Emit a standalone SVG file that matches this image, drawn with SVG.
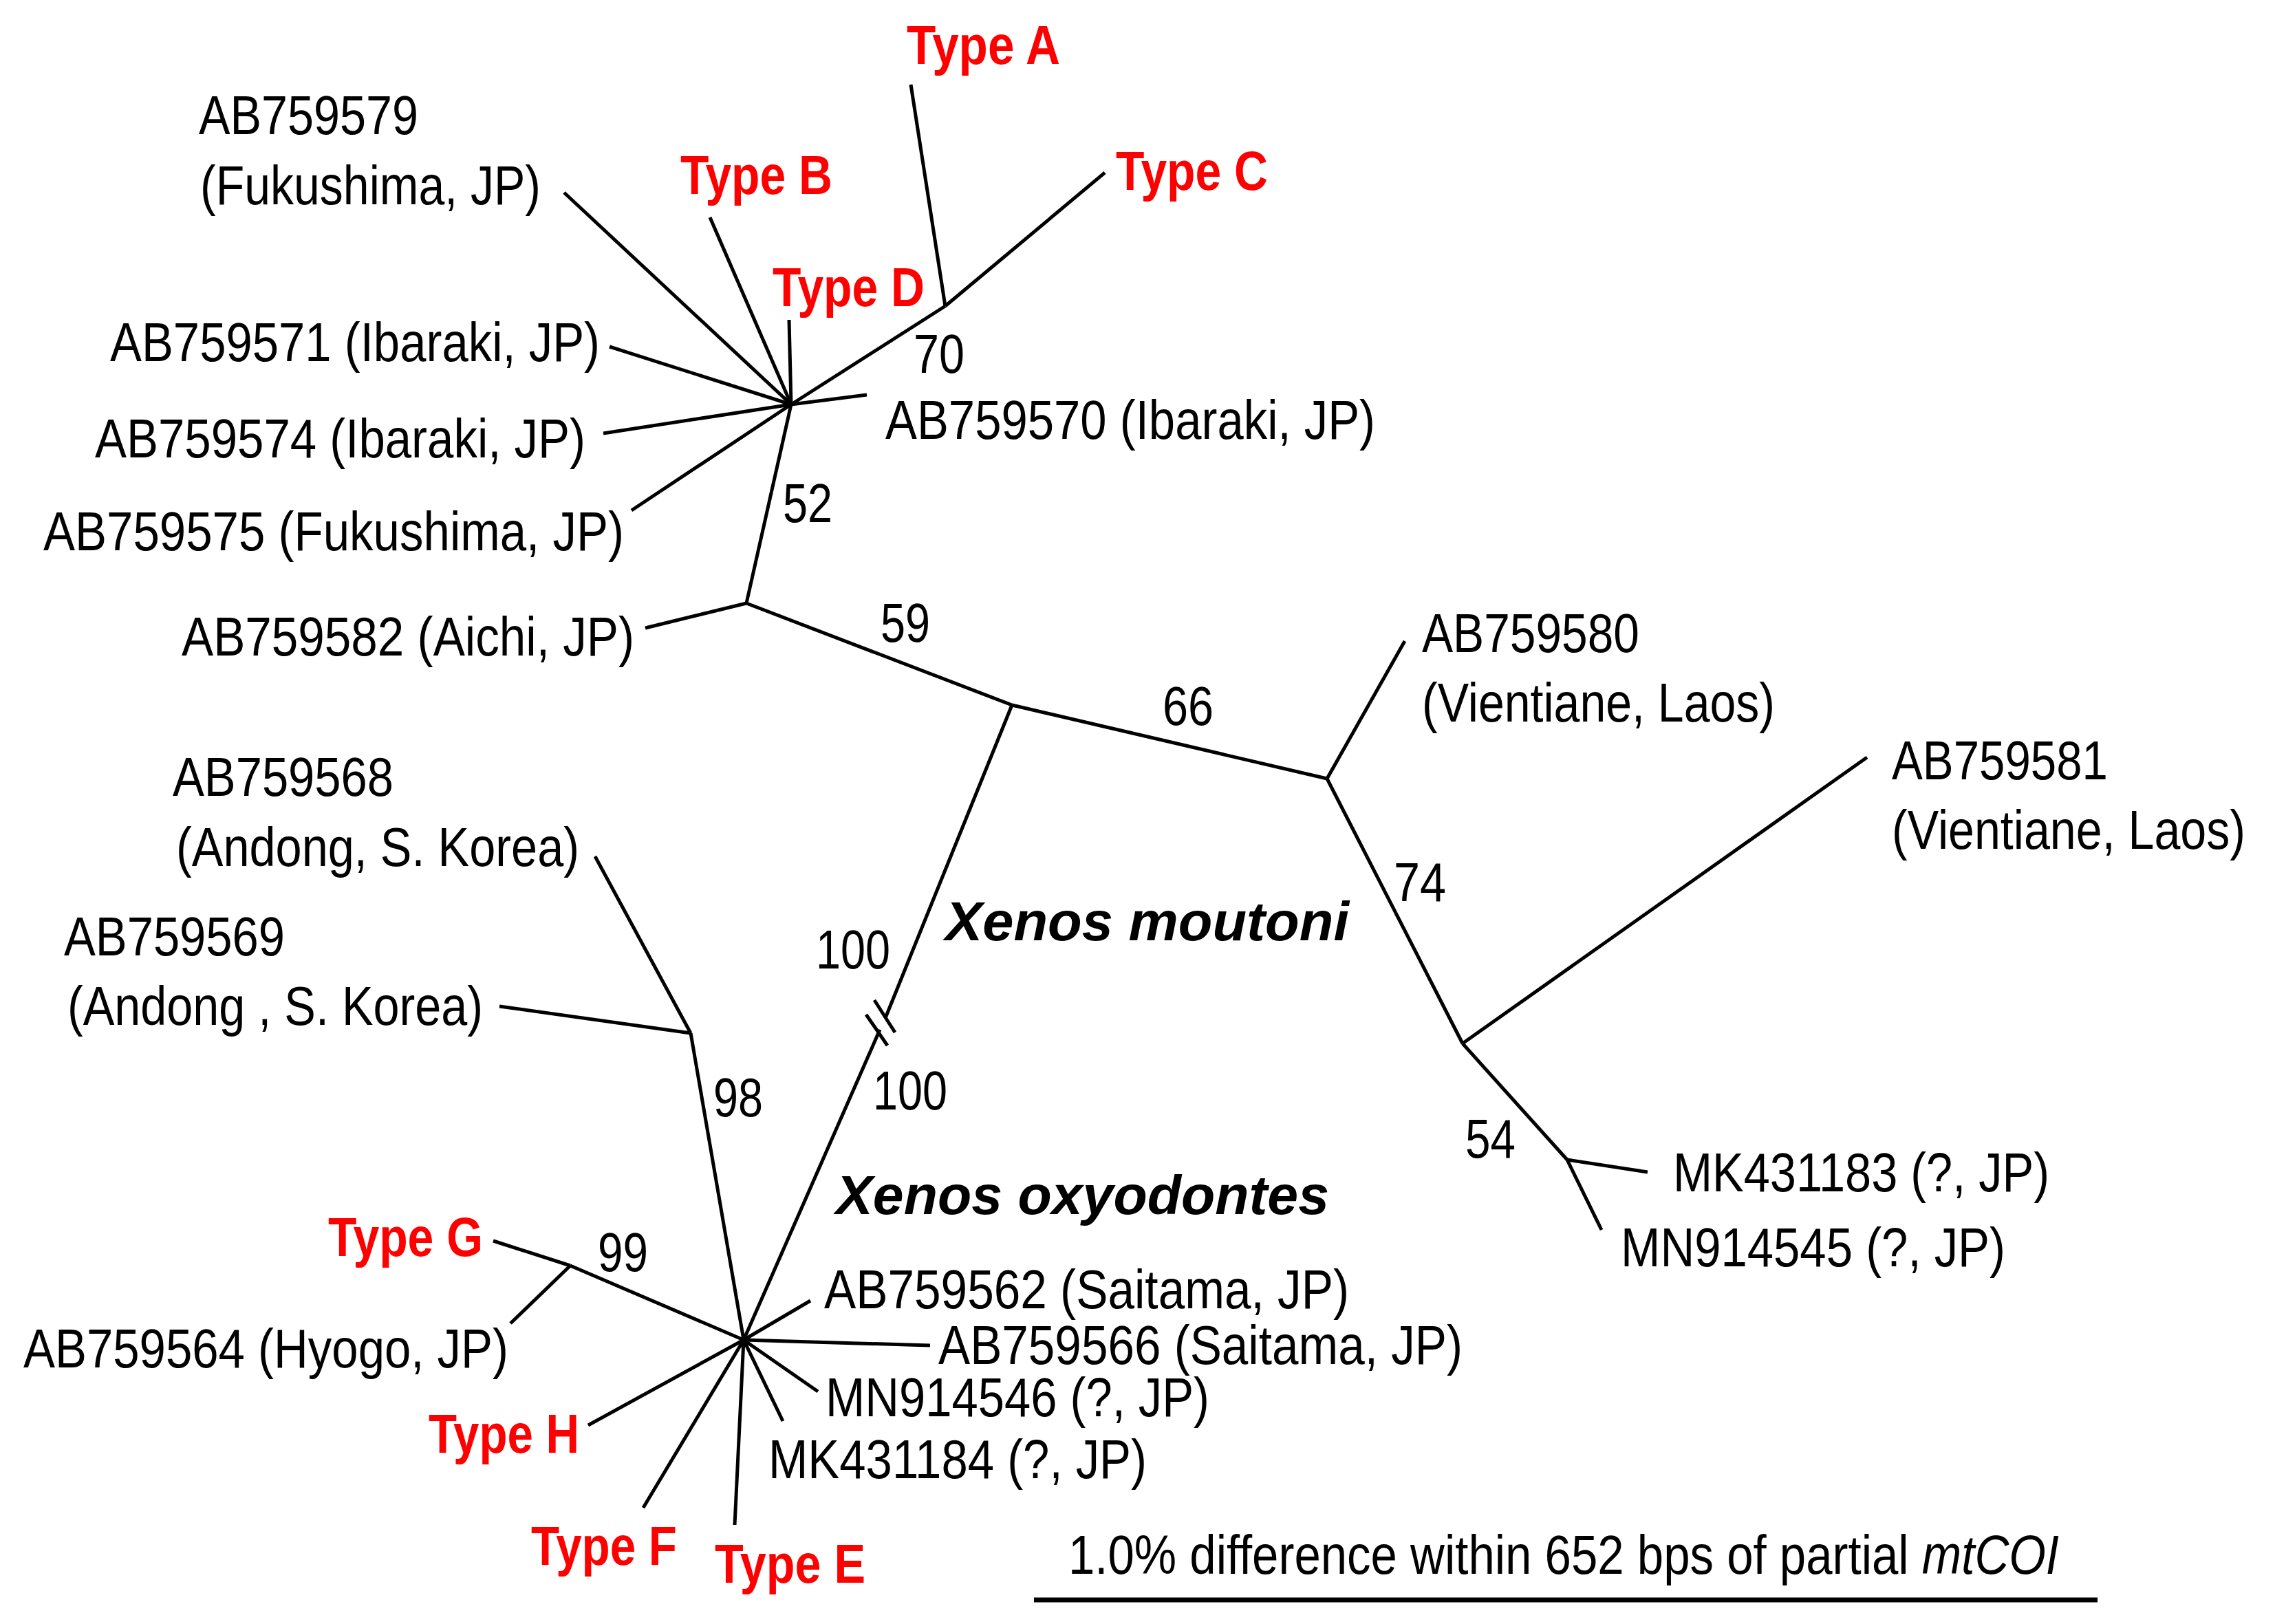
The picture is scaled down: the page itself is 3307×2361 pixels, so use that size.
<svg xmlns="http://www.w3.org/2000/svg" width="3307" height="2361" viewBox="0 0 3307 2361">
<style>
.t{font-family:"Liberation Sans",Arial,sans-serif;font-size:80px;fill:#000}
.r{font-family:"Liberation Sans",Arial,sans-serif;font-size:80px;font-weight:bold;fill:#ff0000}
.sp{font-family:"Liberation Sans",Arial,sans-serif;font-size:80px;font-weight:bold;font-style:italic;fill:#000}
.e{stroke:#000;stroke-width:5;fill:none;stroke-linecap:butt}
</style>
<rect width="3307" height="2361" fill="#fff"/>
<g id="connectors" class="e">
<!-- upper Japanese cluster -->
<line x1="1150" y1="588" x2="820" y2="280"/>
<line x1="1150" y1="588" x2="1032" y2="316"/>
<line x1="1150" y1="588" x2="1147" y2="465"/>
<line x1="1150" y1="588" x2="886" y2="504"/>
<line x1="1150" y1="588" x2="877" y2="630"/>
<line x1="1150" y1="588" x2="918" y2="742"/>
<line x1="1150" y1="588" x2="1260" y2="574"/>
<line x1="1150" y1="588" x2="1374" y2="445"/>
<line x1="1374" y1="445" x2="1324" y2="123"/>
<line x1="1374" y1="445" x2="1606" y2="251"/>
<line x1="1150" y1="588" x2="1085" y2="877"/>
<line x1="1085" y1="877" x2="938" y2="913"/>
<line x1="1085" y1="877" x2="1471" y2="1025"/>
<!-- moutoni right side -->
<line x1="1471" y1="1025" x2="1929" y2="1132"/>
<line x1="1929" y1="1132" x2="2042" y2="932"/>
<line x1="1929" y1="1132" x2="2126" y2="1517"/>
<line x1="2126" y1="1517" x2="2714" y2="1101"/>
<line x1="2126" y1="1517" x2="2278" y2="1686"/>
<line x1="2278" y1="1686" x2="2395" y2="1704"/>
<line x1="2278" y1="1686" x2="2328" y2="1788"/>
<!-- long branch with break -->
<line x1="1471" y1="1025" x2="1287" y2="1480"/>
<line x1="1279" y1="1497" x2="1081" y2="1948"/>
<line x1="1259" y1="1475" x2="1290" y2="1520"/>
<line x1="1271" y1="1454" x2="1301" y2="1501"/>
<!-- oxyodontes -->
<line x1="1081" y1="1948" x2="1004" y2="1502"/>
<line x1="1004" y1="1502" x2="865" y2="1245"/>
<line x1="1004" y1="1502" x2="726" y2="1463"/>
<line x1="1081" y1="1948" x2="829" y2="1840"/>
<line x1="829" y1="1840" x2="717" y2="1804"/>
<line x1="829" y1="1840" x2="742" y2="1924"/>
<line x1="1081" y1="1948" x2="855" y2="2072"/>
<line x1="1081" y1="1948" x2="935" y2="2192"/>
<line x1="1081" y1="1948" x2="1068" y2="2217"/>
<line x1="1081" y1="1948" x2="1138" y2="2066"/>
<line x1="1081" y1="1948" x2="1189" y2="2023"/>
<line x1="1081" y1="1948" x2="1352" y2="1956"/>
<line x1="1081" y1="1948" x2="1178" y2="1891"/>
<!-- scale bar -->
<line x1="1503" y1="2326" x2="3049" y2="2326" stroke-width="7"/>
</g>
<g id="n-AB759579"><text class="t" x="289" y="195" textLength="319" lengthAdjust="spacingAndGlyphs">AB759579</text><text class="t" x="291" y="297" textLength="495" lengthAdjust="spacingAndGlyphs">(Fukushima, JP)</text></g>
<g id="n-AB759571"><text class="t" x="160" y="525" textLength="712" lengthAdjust="spacingAndGlyphs">AB759571 (Ibaraki, JP)</text></g>
<g id="n-AB759574"><text class="t" x="138" y="665" textLength="713" lengthAdjust="spacingAndGlyphs">AB759574 (Ibaraki, JP)</text></g>
<g id="n-AB759575"><text class="t" x="63" y="800" textLength="844" lengthAdjust="spacingAndGlyphs">AB759575 (Fukushima, JP)</text></g>
<g id="n-TypeA"><text class="r" x="1318" y="93" textLength="223" lengthAdjust="spacingAndGlyphs">Type A</text></g>
<g id="n-TypeB"><text class="r" x="989" y="282" textLength="221" lengthAdjust="spacingAndGlyphs">Type B</text></g>
<g id="n-TypeC"><text class="r" x="1622" y="276" textLength="221" lengthAdjust="spacingAndGlyphs">Type C</text></g>
<g id="n-TypeD"><text class="r" x="1123" y="445" textLength="221" lengthAdjust="spacingAndGlyphs">Type D</text></g>
<g id="n-AB759570"><text class="t" x="1287" y="638" textLength="712" lengthAdjust="spacingAndGlyphs">AB759570 (Ibaraki, JP)</text></g>
<g id="n-AB759582"><text class="t" x="264" y="953" textLength="658" lengthAdjust="spacingAndGlyphs">AB759582 (Aichi, JP)</text></g>
<g id="n-AB759580"><text class="t" x="2067" y="948" textLength="316" lengthAdjust="spacingAndGlyphs">AB759580</text><text class="t" x="2067" y="1049" textLength="513" lengthAdjust="spacingAndGlyphs">(Vientiane, Laos)</text></g>
<g id="n-AB759581"><text class="t" x="2750" y="1133" textLength="314" lengthAdjust="spacingAndGlyphs">AB759581</text><text class="t" x="2750" y="1234" textLength="514" lengthAdjust="spacingAndGlyphs">(Vientiane, Laos)</text></g>
<g id="n-MK431183"><text class="t" x="2432" y="1732" textLength="547" lengthAdjust="spacingAndGlyphs">MK431183 (?, JP)</text></g>
<g id="n-MN914545"><text class="t" x="2356" y="1841" textLength="559" lengthAdjust="spacingAndGlyphs">MN914545 (?, JP)</text></g>
<g id="n-AB759568"><text class="t" x="251" y="1157" textLength="321" lengthAdjust="spacingAndGlyphs">AB759568</text><text class="t" x="256" y="1259" textLength="586" lengthAdjust="spacingAndGlyphs">(Andong, S. Korea)</text></g>
<g id="n-AB759569"><text class="t" x="93" y="1389" textLength="321" lengthAdjust="spacingAndGlyphs">AB759569</text><text class="t" x="98" y="1490" textLength="604" lengthAdjust="spacingAndGlyphs">(Andong , S. Korea)</text></g>
<g id="n-TypeG"><text class="r" x="477" y="1826" textLength="225" lengthAdjust="spacingAndGlyphs">Type G</text></g>
<g id="n-AB759564"><text class="t" x="34" y="1988" textLength="705" lengthAdjust="spacingAndGlyphs">AB759564 (Hyogo, JP)</text></g>
<g id="n-TypeH"><text class="r" x="623" y="2112" textLength="219" lengthAdjust="spacingAndGlyphs">Type H</text></g>
<g id="n-TypeF"><text class="r" x="772" y="2275" textLength="212" lengthAdjust="spacingAndGlyphs">Type F</text></g>
<g id="n-TypeE"><text class="r" x="1039" y="2301" textLength="219" lengthAdjust="spacingAndGlyphs">Type E</text></g>
<g id="n-AB759562"><text class="t" x="1198" y="1902" textLength="763" lengthAdjust="spacingAndGlyphs">AB759562 (Saitama, JP)</text></g>
<g id="n-AB759566"><text class="t" x="1364" y="1983" textLength="762" lengthAdjust="spacingAndGlyphs">AB759566 (Saitama, JP)</text></g>
<g id="n-MN914546"><text class="t" x="1200" y="2059" textLength="558" lengthAdjust="spacingAndGlyphs">MN914546 (?, JP)</text></g>
<g id="n-MK431184"><text class="t" x="1117" y="2149" textLength="550" lengthAdjust="spacingAndGlyphs">MK431184 (?, JP)</text></g>
<g id="species">
<text class="sp" x="1374" y="1367" textLength="587" lengthAdjust="spacingAndGlyphs">Xenos moutoni</text>
<text class="sp" x="1215" y="1765" textLength="717" lengthAdjust="spacingAndGlyphs">Xenos oxyodontes</text>
</g>
<g id="support">
<text class="t" x="1328" y="542" textLength="74" lengthAdjust="spacingAndGlyphs">70</text>
<text class="t" x="1138" y="759" textLength="72" lengthAdjust="spacingAndGlyphs">52</text>
<text class="t" x="1280" y="933" textLength="72" lengthAdjust="spacingAndGlyphs">59</text>
<text class="t" x="1690" y="1054" textLength="74" lengthAdjust="spacingAndGlyphs">66</text>
<text class="t" x="2026" y="1310" textLength="76" lengthAdjust="spacingAndGlyphs">74</text>
<text class="t" x="2130" y="1683" textLength="73" lengthAdjust="spacingAndGlyphs">54</text>
<text class="t" x="1186" y="1408" textLength="108" lengthAdjust="spacingAndGlyphs">100</text>
<text class="t" x="1269" y="1613" textLength="108" lengthAdjust="spacingAndGlyphs">100</text>
<text class="t" x="1037" y="1623" textLength="72" lengthAdjust="spacingAndGlyphs">98</text>
<text class="t" x="869" y="1848" textLength="73" lengthAdjust="spacingAndGlyphs">99</text>
</g>
<g id="scale"><text class="t" x="1553" y="2288" textLength="1440" lengthAdjust="spacingAndGlyphs">1.0% difference within 652 bps of partial <tspan font-style="italic">mtCOI</tspan></text></g>
</svg>
